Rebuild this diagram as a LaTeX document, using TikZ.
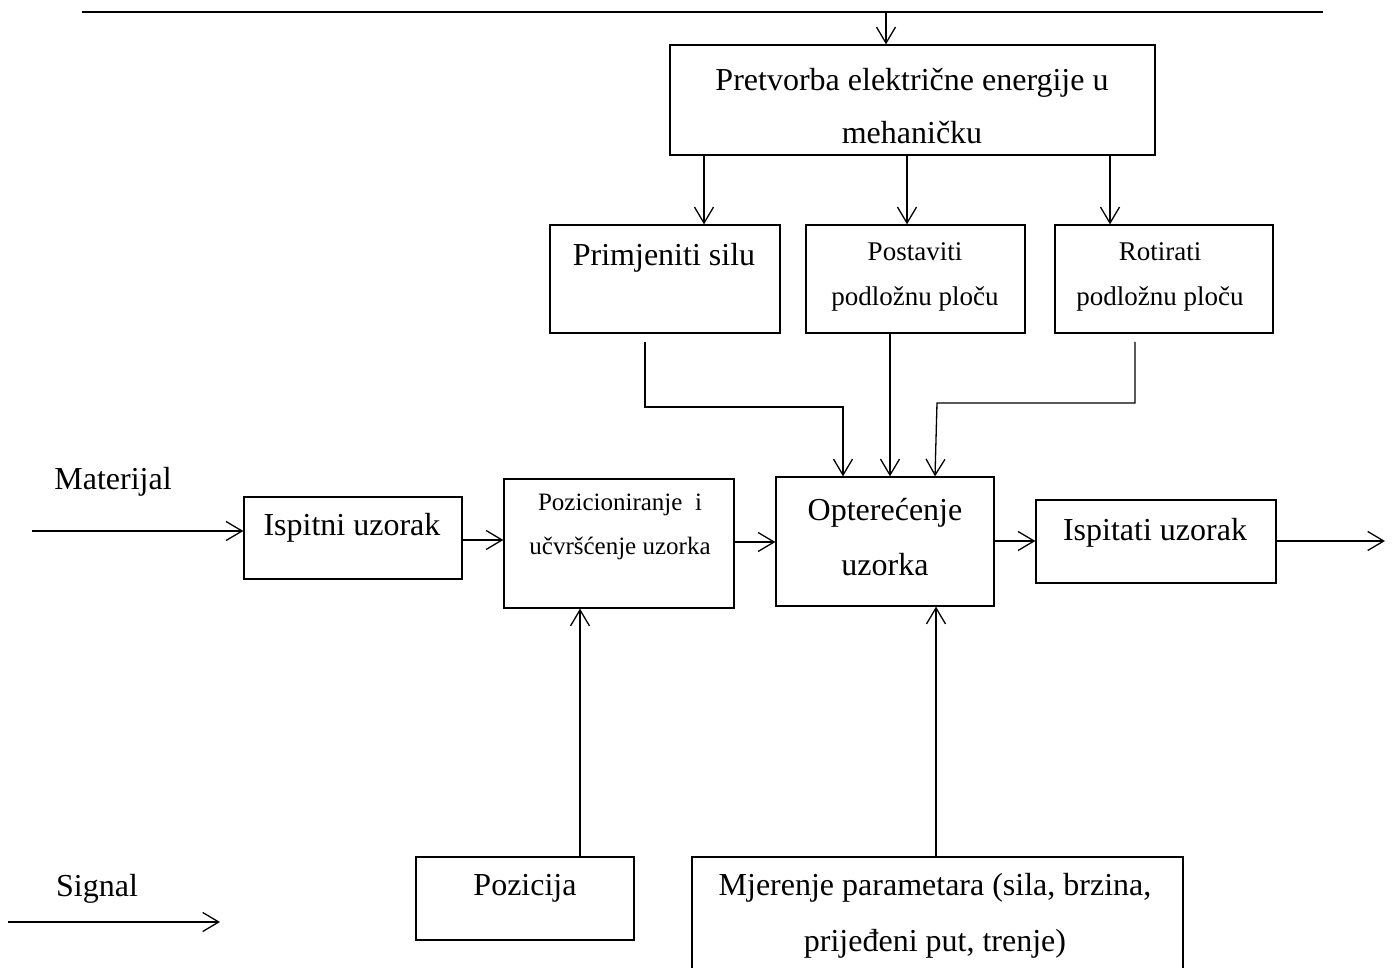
\documentclass[tikz,border=0pt]{standalone}
\usepackage{fontspec}
\setmainfont{Liberation Serif}
\usetikzlibrary{arrows.meta}
\begin{document}
\begin{tikzpicture}[x=0.5pt,y=-0.5pt,
  box/.style={draw,line width=0.65pt,inner sep=0pt},
  arr/.style={line width=0.65pt,-{Straight Barb[length=8pt,width=9.5pt,line width=0.65pt]}},
  ln/.style={line width=0.65pt},
  big/.style={font=\fontsize{16}{18}\selectfont,inner sep=0pt},
]
\useasboundingbox (0,0) rectangle (1394,968);
% boxes
\node[box,minimum width=242.5pt,minimum height=55pt] (pret) at (912.5,100) {};
\node[box,minimum width=115pt,minimum height=54pt] (prim) at (665,279) {};
\node[box,minimum width=109.5pt,minimum height=54pt] (post) at (915.5,279) {};
\node[box,minimum width=109pt,minimum height=54pt] (rot) at (1164,279) {};
\node[box,minimum width=109pt,minimum height=64.5pt] (opt) at (885,541.5) {};
\node[box,minimum width=109pt,minimum height=41pt] (isp) at (353,538) {};
\node[box,minimum width=115pt,minimum height=64.5pt] (poz) at (619,543.5) {};
\node[box,minimum width=120pt,minimum height=41.5pt] (ispt) at (1156,541.5) {};
\node[box,minimum width=109pt,minimum height=41.5pt] (pozc) at (525,898.5) {};
\node[box,minimum width=245.5pt,minimum height=60pt] (mjer) at (937.5,917) {};
% texts
\node[big,align=center,font=\fontsize{16}{26.5}\selectfont] (tpret) at (912,106) {Pretvorba električne energije u\\mehaničku};
\node[big] (tprim) at (664,258) {Primjeniti silu};
\node[big,align=center,font=\fontsize{13.5}{22.5}\selectfont] (tpost) at (915,277) {Postaviti\\podložnu ploču};
\node[big,align=center,font=\fontsize{13.5}{22.5}\selectfont] (trot) at (1160,277) {Rotirati\\podložnu ploču};
\node[big] (tmat) at (113,482) {Materijal};
\node[big] (tisp) at (352,528) {Ispitni uzorak};
\node[big,align=center,font=\fontsize{12.5}{22}\selectfont] (tpoz) at (620,527) {Pozicioniranje\ \ i\\učvršćenje uzorka};
\node[big,align=center,font=\fontsize{16}{27.5}\selectfont] (topt) at (885,537) {Opterećenje\\uzorka};
\node[big] (tispt) at (1155,533) {Ispitati uzorak};
\node[big] (tsig) at (97,889) {Signal};
\node[big] (tpozc) at (525,888) {Pozicija};
\node[big,align=center,font=\fontsize{16}{28}\selectfont] (tmjer) at (935,916) {Mjerenje parametara (sila, brzina,\\prijeđeni put, trenje)};
% coordinates
\coordinate (tl) at (82,12);
\coordinate (tr) at (1323,12);
\coordinate (tin) at (886,12);
\coordinate (c1) at (704,0);
\coordinate (c2) at (907,0);
\coordinate (c3) at (1110,0);
\coordinate (p1) at (645,342);
\coordinate (p1b) at (843,407);
\coordinate (c4) at (890,0);
\coordinate (r1) at (1135,342);
\coordinate (r1b) at (937,403);
\coordinate (c5) at (935,0);
\coordinate (mat) at (32,531);
\coordinate (y540) at (0,540);
\coordinate (y542) at (0,542);
\coordinate (y541) at (0,541);
\coordinate (out) at (1385,541);
\coordinate (c6) at (580,0);
\coordinate (c7) at (936,0);
\coordinate (s1) at (8,922);
\coordinate (s2) at (220,922);
% connectors
\draw[ln] (tl) -- (tr);
\draw[arr] (tin) -- (pret.north -| tin);
\draw[arr] (pret.south -| c1) -- (prim.north -| c1);
\draw[arr] (pret.south -| c2) -- (post.north -| c2);
\draw[arr] (pret.south -| c3) -- (rot.north -| c3);
\draw[arr] (p1) |- (p1b) -- (opt.north -| p1b);
\draw[arr] (post.south -| c4) -- (opt.north -| c4);
\draw[arr] (r1) |- (r1b) -- (opt.north -| c5);
\draw[arr] (mat) -- (isp.west |- mat);
\draw[arr] (isp.east |- y540) -- (poz.west |- y540);
\draw[arr] (poz.east |- y542) -- (opt.west |- y542);
\draw[arr] (opt.east |- y541) -- (ispt.west |- y541);
\draw[arr] (ispt.east |- out) -- (out);
\draw[arr] (pozc.north -| c6) -- (poz.south -| c6);
\draw[arr] (mjer.north -| c7) -- (opt.south -| c7);
\draw[arr] (s1) -- (s2);
\end{tikzpicture}
\end{document}
